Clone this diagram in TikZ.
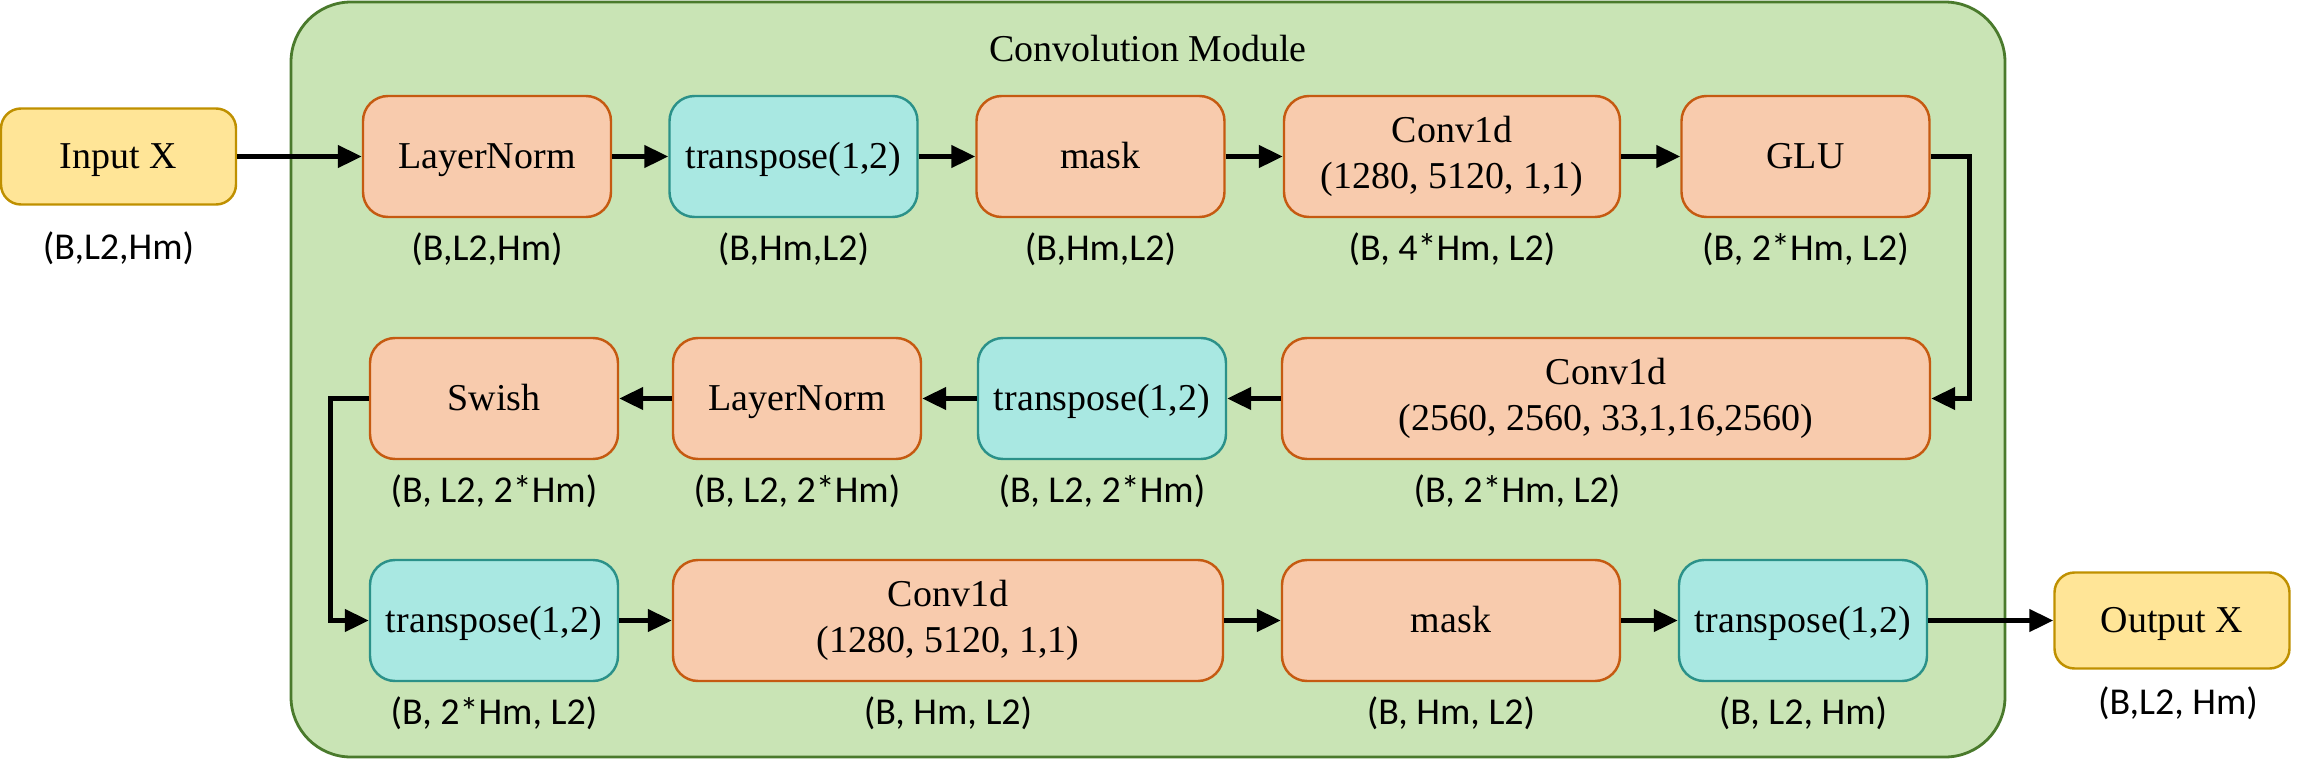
\documentclass[tikz,border=0pt]{standalone}
\usepackage{fontspec}
\setmainfont{Liberation Serif}
\newfontfamily\dimfont{Carlito}
\usetikzlibrary{arrows.meta,positioning}

\definecolor{peachfill}{HTML}{F8CBAD}
\definecolor{peachline}{HTML}{C55A11}
\definecolor{tealfill}{HTML}{A9E8E2}
\definecolor{tealline}{HTML}{2B9189}
\definecolor{yellowfill}{HTML}{FFE597}
\definecolor{yellowline}{HTML}{BF9000}
\definecolor{modfill}{HTML}{C9E4B5}
\definecolor{modline}{HTML}{4A7A2C}

\tikzset{
  opbox/.style={draw=peachline, fill=peachfill, line width=0.7pt, rounded corners=2.5mm,
    minimum width=24.8mm, minimum height=12.1mm, align=center, font=\fontsize{10.8}{13}\selectfont},
  trbox/.style={opbox, draw=tealline, fill=tealfill},
  iobox/.style={opbox, draw=yellowline, fill=yellowfill, minimum width=23.5mm,
    minimum height=9.6mm, rounded corners=2mm},
  oneline/.style={text height=0.66em, text depth=0pt},
  dims/.style={font=\dimfont\fontsize{10.8}{13}\selectfont},
  arr/.style={-{Triangle[length=2.4mm,width=2.2mm]}, line width=1.3pt},
}

\begin{document}
\begin{tikzpicture}[x=1mm,y=-1mm]
  \useasboundingbox (0,0) rectangle (230.3,75.9);

  % Module frame
  \draw[modline, fill=modfill, line width=0.8pt, rounded corners=6mm] (29.1,0.2) rectangle (200.5,75.7);
  \node[font=\fontsize{10.8}{13}\selectfont] (title) at (114.8,4.9) {Convolution Module};

  % Input / output
  \node[iobox, oneline] (in) at (11.85,15.65) {Input X};
  \node[iobox, oneline] (out) at (217.2,62.05) {Output X};
  \node[dims] (ind) at (11.85,24.8) {(B,L2,Hm)};
  \node[dims] (outd) at (217.8,70.3) {(B,L2, Hm)};

  % Row 1
  \node[opbox, oneline] (ln1) at (48.7,15.65) {LayerNorm};
  \node[trbox, oneline] (tr1) at (79.35,15.65) {transpose(1,2)};
  \node[opbox, oneline] (mask1) at (110.05,15.65) {mask};
  \node[opbox, minimum width=33.6mm] (conv1) at (145.2,15.65) {Conv1d\\(1280, 5120, 1,1)};
  \node[opbox, oneline] (glu) at (180.55,15.65) {GLU};

  % Row 2
  \node[opbox, minimum width=64.8mm] (conv2) at (160.6,39.85) {Conv1d\\(2560, 2560, 33,1,16,2560)};
  \node[trbox, oneline] (tr2) at (110.2,39.85) {transpose(1,2)};
  \node[opbox, oneline] (ln2) at (79.7,39.85) {LayerNorm};
  \node[opbox, oneline] (swish) at (49.4,39.85) {Swish};

  % Row 3
  \node[trbox, oneline] (tr3) at (49.4,62.05) {transpose(1,2)};
  \node[opbox, minimum width=55mm] (conv3) at (94.8,62.05) {Conv1d\\(1280, 5120, 1,1)};
  \node[opbox, oneline, minimum width=33.8mm] (mask3) at (145.1,62.05) {mask};
  \node[trbox, oneline] (tr4) at (180.3,62.05) {transpose(1,2)};

  % Shapes
  \node[dims, below=0.2mm of ln1] (ln1d) {(B,L2,Hm)};
  \node[dims, below=0.2mm of tr1] (tr1d) {(B,Hm,L2)};
  \node[dims, below=0.2mm of mask1] (mask1d) {(B,Hm,L2)};
  \node[dims, below=0.2mm of conv1] (conv1d) {(B, 4*Hm, L2)};
  \node[dims, below=0.2mm of glu] (glud) {(B, 2*Hm, L2)};
  \node[dims, below=0.2mm of swish] (swishd) {(B, L2, 2*Hm)};
  \node[dims, below=0.2mm of ln2] (ln2d) {(B, L2, 2*Hm)};
  \node[dims, below=0.2mm of tr2] (tr2d) {(B, L2, 2*Hm)};
  \node[dims, below=0.2mm of conv2, xshift=-8.9mm] (conv2d) {(B, 2*Hm, L2)};
  \node[dims, below=0.2mm of tr3] (tr3d) {(B, 2*Hm, L2)};
  \node[dims, below=0.2mm of conv3] (conv3d) {(B, Hm, L2)};
  \node[dims, below=0.2mm of mask3] (mask3d) {(B, Hm, L2)};
  \node[dims, below=0.2mm of tr4] (tr4d) {(B, L2, Hm)};

  % Arrows
  \draw[arr] (in) -- (ln1);
  \draw[arr] (ln1) -- (tr1);
  \draw[arr] (tr1) -- (mask1);
  \draw[arr] (mask1) -- (conv1);
  \draw[arr] (conv1) -- (glu);
  \draw[arr] (glu.east) -- ++(3.9,0) |- (conv2.east);
  \draw[arr] (conv2) -- (tr2);
  \draw[arr] (tr2) -- (ln2);
  \draw[arr] (ln2) -- (swish);
  \draw[arr] (swish.west) -- ++(-3.8,0) |- (tr3.west);
  \draw[arr] (tr3) -- (conv3);
  \draw[arr] (conv3) -- (mask3);
  \draw[arr] (mask3) -- (tr4);
  \draw[arr] (tr4) -- (out);

\end{tikzpicture}
\end{document}
